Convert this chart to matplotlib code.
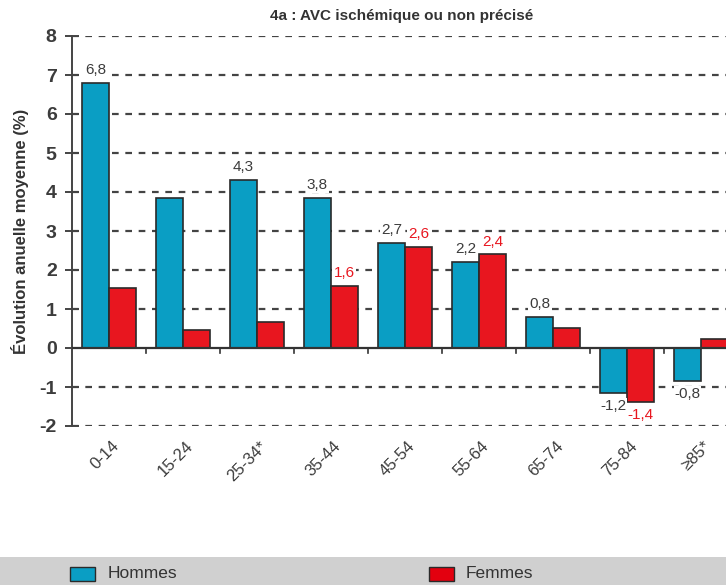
import matplotlib
matplotlib.use("Agg")
import matplotlib.pyplot as plt
import matplotlib.patches as mpatches
import numpy as np

plt.rcParams['font.family'] = ['Liberation Sans Narrow', 'Liberation Sans', 'DejaVu Sans']

categories = ["0-14", "15-24", "25-34*", "35-44", "45-54", "55-64", "65-74", "75-84", "≥85*"]
hommes = [6.8, 3.85, 4.3, 3.85, 2.7, 2.2, 0.8, -1.15, -0.85]
femmes = [1.55, 0.47, 0.67, 1.6, 2.6, 2.4, 0.52, -1.38, 0.22]
hommes_labels = ["6,8", None, "4,3", "3,8", "2,7", "2,2", "0,8", "-1,2", "-0,8"]
femmes_labels = [None, None, None, "1,6", "2,6", "2,4", None, "-1,4", None]
yticks = [-2, -1, 0, 1, 2, 3, 4, 5, 6, 7, 8]
title = "4a : AVC ischémique ou non précisé"
ylabel = "Évolution anuelle moyenne (%)"

blue = "#0a9ec4"
red = "#e8161f"
edge = "#2a2a2a"
txt = "#3c3c3c"

W, H = 726, 585
fig = plt.figure(figsize=(W/100, H/100), dpi=100)
ax_l, ax_r = 72, 726
ax_t, ax_b = 36, 426
ax = fig.add_axes([ax_l/W, 1-ax_b/H, (ax_r-ax_l)/W, (ax_b-ax_t)/H])
spacing = 74.0
xmax = -0.5 + (ax_r-ax_l)/spacing

x = np.arange(len(categories))
bw = 0.365
ax.bar(x - bw/2, hommes, bw, color=blue, edgecolor=edge, linewidth=1.2, zorder=3)
ax.bar(x + bw/2, femmes, bw, color=red, edgecolor=edge, linewidth=1.2, zorder=3)

bbox = dict(facecolor='white', edgecolor='none', pad=0.5)
for i, (v, l) in enumerate(zip(hommes, hommes_labels)):
    if l:
        off = 0.15 if v >= 0 else -0.15
        ax.text(i - bw/2, v + off, l, ha='center', va='bottom' if v >= 0 else 'top',
                color=txt, fontsize=11, zorder=4, bbox=bbox)
for i, (v, l) in enumerate(zip(femmes, femmes_labels)):
    if l:
        off = 0.15 if v >= 0 else -0.15
        ax.text(i + bw/2, v + off, l, ha='center', va='bottom' if v >= 0 else 'top',
                color=red, fontsize=11, zorder=4, bbox=bbox)

ax.set_xlim(-0.5, xmax)
ax.set_ylim(-2, 8)
ax.set_yticks(yticks)
ax.set_yticklabels([str(t) for t in yticks], fontsize=14, color=txt, fontweight='bold')
for t in yticks:
    if t != 0:
        ax.axhline(t, color='#444444', linestyle=(0, (3, 3)), linewidth=1.6, zorder=1)
ax.axhline(0, color='#333333', linewidth=1.6, zorder=4)

ax.set_xticks([])
for b in np.arange(0.5, len(categories) - 0.5, 1.0):
    ax.plot([b, b], [0, -0.12], color='#333333', linewidth=1.2, zorder=4, clip_on=False)
for i, c in enumerate(categories):
    ax.text(i + 0.03, -2.32, c, rotation=45, ha='right', va='top', fontsize=12,
            color=txt, rotation_mode='anchor')

for s in ['top', 'right', 'bottom']:
    ax.spines[s].set_visible(False)
ax.spines['left'].set_color('#444444')
ax.spines['left'].set_linewidth(1.4)
ax.tick_params(axis='y', direction='inout', length=10, width=1.4, color='#444444', pad=6)

fig.text(402/W, 1-16/H, title, ha='center', va='center', fontsize=11,
         fontweight='bold', color='#333333')
fig.text(20/W, 1-(ax_t+ax_b)/2/H, ylabel, rotation=90, ha='center', va='center',
         fontsize=12, fontweight='bold', color='#333333')

# legend band
fig.patches.append(mpatches.Rectangle((0, 0), 1, 28/H, transform=fig.transFigure,
                                      facecolor='#d0d0d0', edgecolor='none', zorder=0))
fig.patches.append(mpatches.Rectangle((70/W, 1-581/H), 25/W, 14/H, transform=fig.transFigure,
                                      facecolor=blue, edgecolor=edge, linewidth=1.0, zorder=2))
fig.patches.append(mpatches.Rectangle((429/W, 1-581/H), 25/W, 14/H, transform=fig.transFigure,
                                      facecolor='#e3000f', edgecolor=edge, linewidth=1.0, zorder=2))
fig.text(108/W, 1-574/H, "Hommes", ha='left', va='center', fontsize=12.5, color='#333333')
fig.text(466/W, 1-574/H, "Femmes", ha='left', va='center', fontsize=12.5, color='#333333')

fig.savefig("out.png", dpi=100)
